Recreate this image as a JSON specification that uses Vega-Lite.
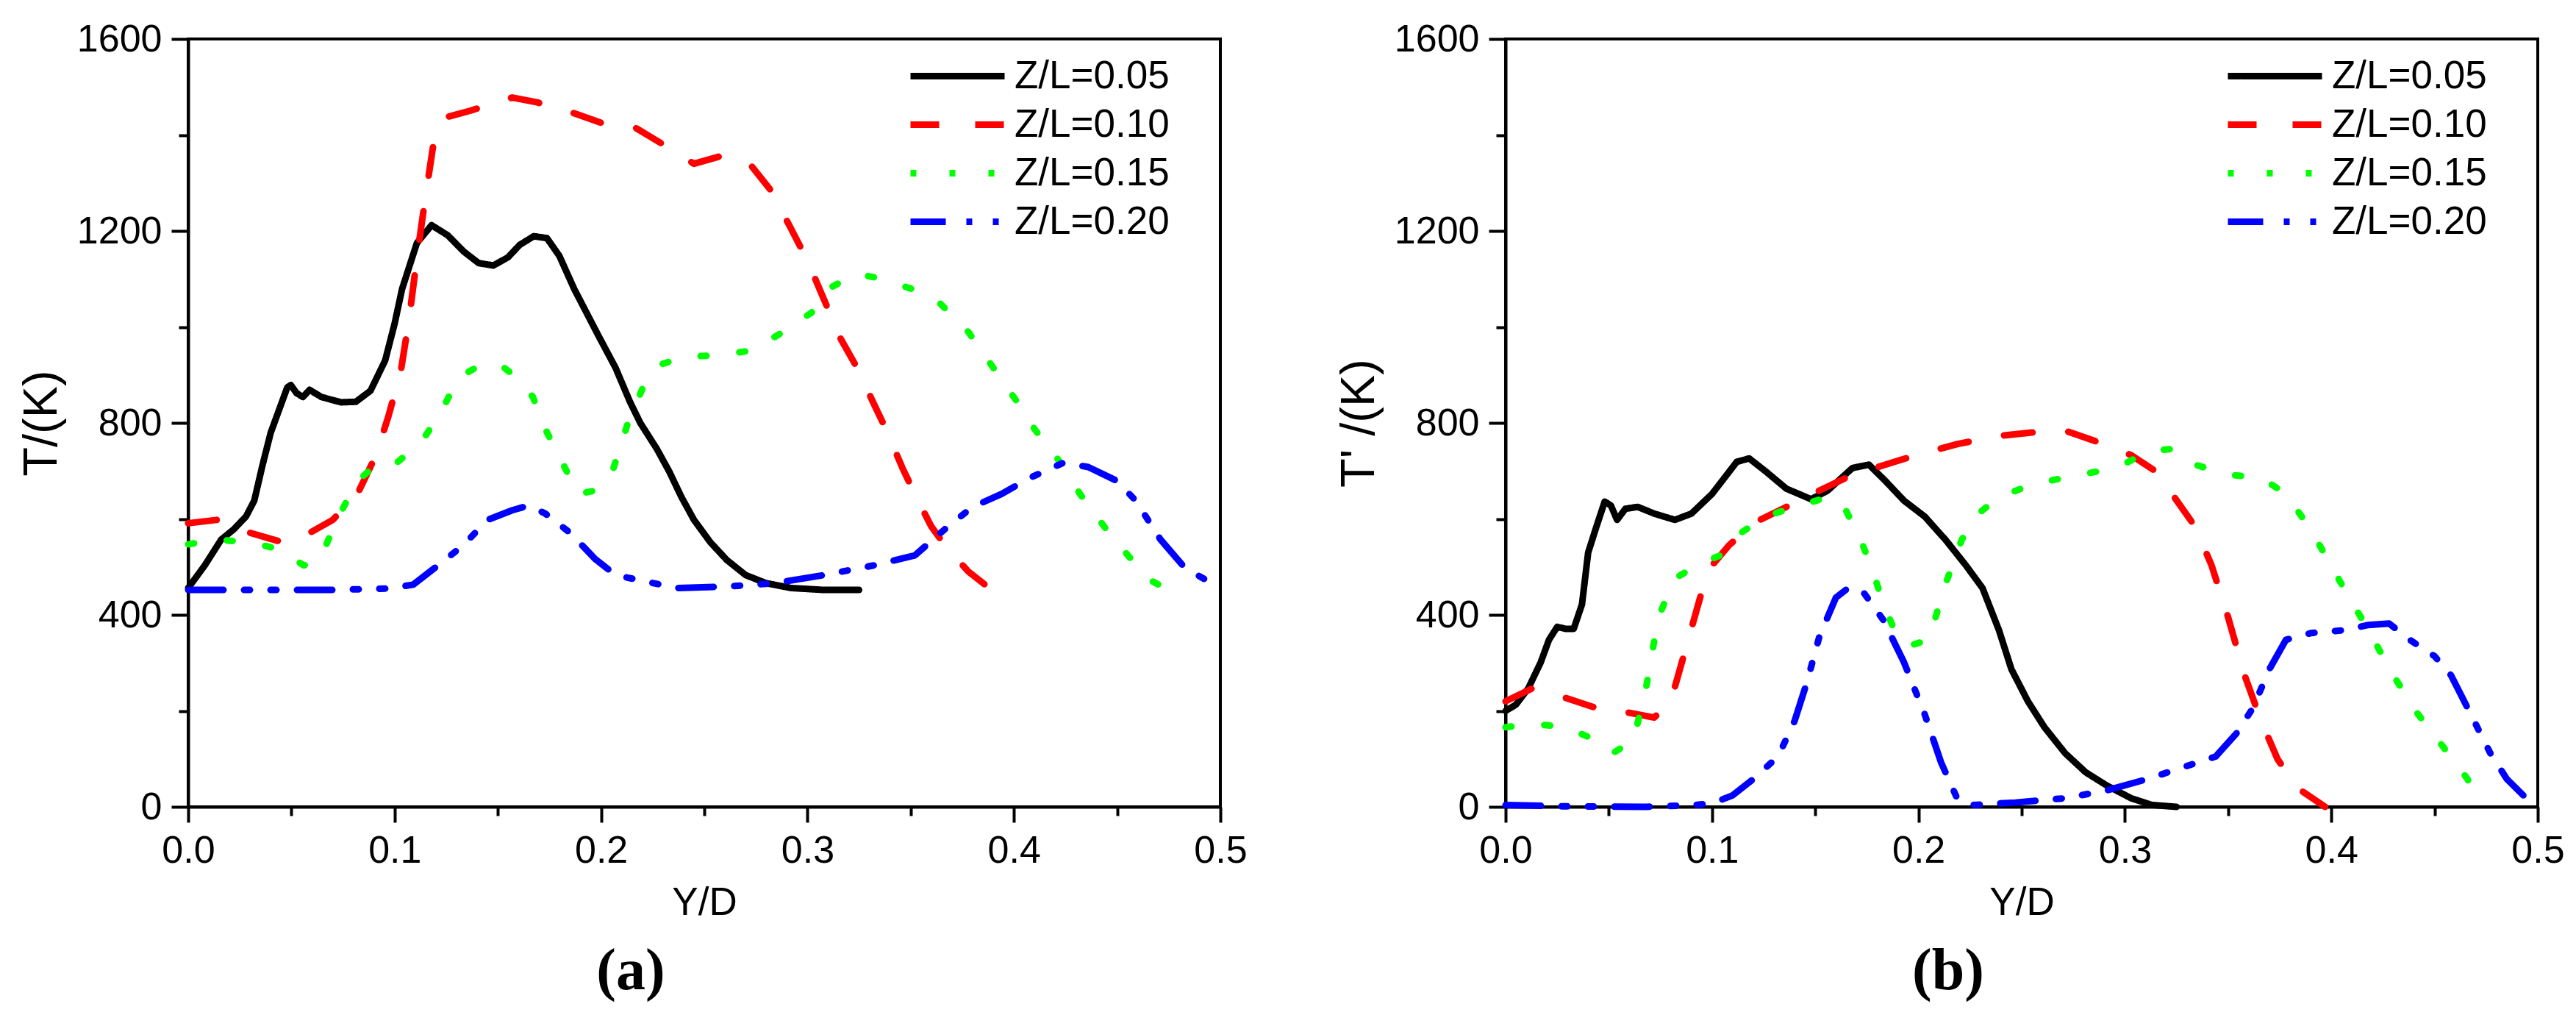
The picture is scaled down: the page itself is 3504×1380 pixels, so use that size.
{
  "$schema": "https://vega.github.io/schema/vega-lite/v6.json",
  "background": "white",
  "padding": {"left": 22, "top": 25, "right": 0, "bottom": 0},
  "spacing": 115,
  "config": {
    "font": "Liberation Sans",
    "view": {"stroke": "black", "strokeWidth": 4},
    "axis": {
      "grid": false,
      "domainColor": "black",
      "domainWidth": 4,
      "tickColor": "black",
      "tickWidth": 4,
      "labelFont": "Liberation Sans",
      "labelFontSize": 52,
      "labelColor": "black",
      "labelFlush": false,
      "labelOverlap": false,
      "labelPadding": 13,
      "titleFont": "Liberation Sans",
      "titleFontWeight": "normal",
      "titleColor": "black"
    },
    "legend": {
      "padding": 0,
      "labelFont": "Liberation Sans",
      "labelFontSize": 53,
      "labelColor": "black",
      "labelLimit": 0,
      "labelOffset": 99,
      "rowPadding": 12,
      "symbolType": "M-1,0H7",
      "symbolSize": 1024,
      "symbolStrokeWidth": 9
    }
  },
  "data": {
    "values": [
      {"p":"a","s":"Z/L=0.05","x":0,"y":456},{"p":"a","s":"Z/L=0.05","x":0.008,"y":503},{"p":"a","s":"Z/L=0.05","x":0.016,"y":557},{"p":"a","s":"Z/L=0.05","x":0.022,"y":578},{"p":"a","s":"Z/L=0.05","x":0.028,"y":605},{"p":"a","s":"Z/L=0.05","x":0.032,"y":638},{"p":"a","s":"Z/L=0.05","x":0.036,"y":712},{"p":"a","s":"Z/L=0.05","x":0.04,"y":780},{"p":"a","s":"Z/L=0.05","x":0.044,"y":827},{"p":"a","s":"Z/L=0.05","x":0.048,"y":874},{"p":"a","s":"Z/L=0.05","x":0.0497,"y":879},{"p":"a","s":"Z/L=0.05","x":0.0525,"y":862},{"p":"a","s":"Z/L=0.05","x":0.0556,"y":854},{"p":"a","s":"Z/L=0.05","x":0.0588,"y":869},{"p":"a","s":"Z/L=0.05","x":0.0645,"y":854},{"p":"a","s":"Z/L=0.05","x":0.074,"y":843},{"p":"a","s":"Z/L=0.05","x":0.0812,"y":844},{"p":"a","s":"Z/L=0.05","x":0.0883,"y":867},{"p":"a","s":"Z/L=0.05","x":0.0954,"y":930},{"p":"a","s":"Z/L=0.05","x":0.1,"y":1007},{"p":"a","s":"Z/L=0.05","x":0.1036,"y":1079},{"p":"a","s":"Z/L=0.05","x":0.1108,"y":1175},{"p":"a","s":"Z/L=0.05","x":0.1179,"y":1212},{"p":"a","s":"Z/L=0.05","x":0.1257,"y":1191},{"p":"a","s":"Z/L=0.05","x":0.1335,"y":1157},{"p":"a","s":"Z/L=0.05","x":0.1407,"y":1133},{"p":"a","s":"Z/L=0.05","x":0.1478,"y":1128},{"p":"a","s":"Z/L=0.05","x":0.1549,"y":1145},{"p":"a","s":"Z/L=0.05","x":0.1606,"y":1171},{"p":"a","s":"Z/L=0.05","x":0.1674,"y":1189},{"p":"a","s":"Z/L=0.05","x":0.1738,"y":1185},{"p":"a","s":"Z/L=0.05","x":0.1798,"y":1148},{"p":"a","s":"Z/L=0.05","x":0.187,"y":1079},{"p":"a","s":"Z/L=0.05","x":0.1987,"y":982},{"p":"a","s":"Z/L=0.05","x":0.207,"y":915},{"p":"a","s":"Z/L=0.05","x":0.214,"y":844},{"p":"a","s":"Z/L=0.05","x":0.219,"y":800},{"p":"a","s":"Z/L=0.05","x":0.227,"y":746},{"p":"a","s":"Z/L=0.05","x":0.233,"y":699},{"p":"a","s":"Z/L=0.05","x":0.239,"y":645},{"p":"a","s":"Z/L=0.05","x":0.245,"y":598},{"p":"a","s":"Z/L=0.05","x":0.253,"y":551},{"p":"a","s":"Z/L=0.05","x":0.261,"y":514},{"p":"a","s":"Z/L=0.05","x":0.27,"y":483},{"p":"a","s":"Z/L=0.05","x":0.28,"y":466},{"p":"a","s":"Z/L=0.05","x":0.292,"y":456},{"p":"a","s":"Z/L=0.05","x":0.308,"y":452},{"p":"a","s":"Z/L=0.05","x":0.325,"y":452},
      {"p":"a","s":"Z/L=0.10","x":0,"y":591},{"p":"a","s":"Z/L=0.10","x":0.014,"y":598},{"p":"a","s":"Z/L=0.10","x":0.03,"y":571},{"p":"a","s":"Z/L=0.10","x":0.046,"y":551},{"p":"a","s":"Z/L=0.10","x":0.056,"y":564},{"p":"a","s":"Z/L=0.10","x":0.07,"y":598},{"p":"a","s":"Z/L=0.10","x":0.082,"y":652},{"p":"a","s":"Z/L=0.10","x":0.091,"y":733},{"p":"a","s":"Z/L=0.10","x":0.097,"y":814},{"p":"a","s":"Z/L=0.10","x":0.103,"y":908},{"p":"a","s":"Z/L=0.10","x":0.107,"y":1016},{"p":"a","s":"Z/L=0.10","x":0.111,"y":1151},{"p":"a","s":"Z/L=0.10","x":0.115,"y":1273},{"p":"a","s":"Z/L=0.10","x":0.119,"y":1387},{"p":"a","s":"Z/L=0.10","x":0.125,"y":1437},{"p":"a","s":"Z/L=0.10","x":0.137,"y":1451},{"p":"a","s":"Z/L=0.10","x":0.157,"y":1478},{"p":"a","s":"Z/L=0.10","x":0.169,"y":1468},{"p":"a","s":"Z/L=0.10","x":0.185,"y":1448},{"p":"a","s":"Z/L=0.10","x":0.201,"y":1424},{"p":"a","s":"Z/L=0.10","x":0.217,"y":1414},{"p":"a","s":"Z/L=0.10","x":0.229,"y":1383},{"p":"a","s":"Z/L=0.10","x":0.245,"y":1340},{"p":"a","s":"Z/L=0.10","x":0.258,"y":1356},{"p":"a","s":"Z/L=0.10","x":0.272,"y":1340},{"p":"a","s":"Z/L=0.10","x":0.282,"y":1286},{"p":"a","s":"Z/L=0.10","x":0.292,"y":1205},{"p":"a","s":"Z/L=0.10","x":0.3,"y":1138},{"p":"a","s":"Z/L=0.10","x":0.308,"y":1057},{"p":"a","s":"Z/L=0.10","x":0.316,"y":976},{"p":"a","s":"Z/L=0.10","x":0.324,"y":915},{"p":"a","s":"Z/L=0.10","x":0.332,"y":841},{"p":"a","s":"Z/L=0.10","x":0.338,"y":787},{"p":"a","s":"Z/L=0.10","x":0.346,"y":706},{"p":"a","s":"Z/L=0.10","x":0.352,"y":652},{"p":"a","s":"Z/L=0.10","x":0.36,"y":584},{"p":"a","s":"Z/L=0.10","x":0.368,"y":537},{"p":"a","s":"Z/L=0.10","x":0.378,"y":490},{"p":"a","s":"Z/L=0.10","x":0.388,"y":456},
      {"p":"a","s":"Z/L=0.15","x":0,"y":547},{"p":"a","s":"Z/L=0.15","x":0.014,"y":557},{"p":"a","s":"Z/L=0.15","x":0.03,"y":551},{"p":"a","s":"Z/L=0.15","x":0.044,"y":537},{"p":"a","s":"Z/L=0.15","x":0.056,"y":503},{"p":"a","s":"Z/L=0.15","x":0.064,"y":517},{"p":"a","s":"Z/L=0.15","x":0.072,"y":598},{"p":"a","s":"Z/L=0.15","x":0.082,"y":679},{"p":"a","s":"Z/L=0.15","x":0.091,"y":713},{"p":"a","s":"Z/L=0.15","x":0.101,"y":717},{"p":"a","s":"Z/L=0.15","x":0.113,"y":760},{"p":"a","s":"Z/L=0.15","x":0.123,"y":827},{"p":"a","s":"Z/L=0.15","x":0.131,"y":895},{"p":"a","s":"Z/L=0.15","x":0.141,"y":919},{"p":"a","s":"Z/L=0.15","x":0.151,"y":922},{"p":"a","s":"Z/L=0.15","x":0.159,"y":895},{"p":"a","s":"Z/L=0.15","x":0.167,"y":854},{"p":"a","s":"Z/L=0.15","x":0.173,"y":787},{"p":"a","s":"Z/L=0.15","x":0.181,"y":719},{"p":"a","s":"Z/L=0.15","x":0.189,"y":652},{"p":"a","s":"Z/L=0.15","x":0.197,"y":659},{"p":"a","s":"Z/L=0.15","x":0.205,"y":692},{"p":"a","s":"Z/L=0.15","x":0.213,"y":800},{"p":"a","s":"Z/L=0.15","x":0.221,"y":881},{"p":"a","s":"Z/L=0.15","x":0.229,"y":922},{"p":"a","s":"Z/L=0.15","x":0.241,"y":938},{"p":"a","s":"Z/L=0.15","x":0.257,"y":941},{"p":"a","s":"Z/L=0.15","x":0.273,"y":951},{"p":"a","s":"Z/L=0.15","x":0.288,"y":989},{"p":"a","s":"Z/L=0.15","x":0.302,"y":1030},{"p":"a","s":"Z/L=0.15","x":0.312,"y":1084},{"p":"a","s":"Z/L=0.15","x":0.324,"y":1111},{"p":"a","s":"Z/L=0.15","x":0.336,"y":1100},{"p":"a","s":"Z/L=0.15","x":0.352,"y":1077},{"p":"a","s":"Z/L=0.15","x":0.364,"y":1050},{"p":"a","s":"Z/L=0.15","x":0.378,"y":989},{"p":"a","s":"Z/L=0.15","x":0.39,"y":915},{"p":"a","s":"Z/L=0.15","x":0.402,"y":841},{"p":"a","s":"Z/L=0.15","x":0.41,"y":787},{"p":"a","s":"Z/L=0.15","x":0.42,"y":733},{"p":"a","s":"Z/L=0.15","x":0.432,"y":652},{"p":"a","s":"Z/L=0.15","x":0.446,"y":571},{"p":"a","s":"Z/L=0.15","x":0.458,"y":510},{"p":"a","s":"Z/L=0.15","x":0.467,"y":470},{"p":"a","s":"Z/L=0.15","x":0.475,"y":452},
      {"p":"a","s":"Z/L=0.20","x":0,"y":452},{"p":"a","s":"Z/L=0.20","x":0.03,"y":452},{"p":"a","s":"Z/L=0.20","x":0.07,"y":452},{"p":"a","s":"Z/L=0.20","x":0.097,"y":455},{"p":"a","s":"Z/L=0.20","x":0.109,"y":463},{"p":"a","s":"Z/L=0.20","x":0.121,"y":503},{"p":"a","s":"Z/L=0.20","x":0.133,"y":544},{"p":"a","s":"Z/L=0.20","x":0.145,"y":598},{"p":"a","s":"Z/L=0.20","x":0.157,"y":618},{"p":"a","s":"Z/L=0.20","x":0.165,"y":628},{"p":"a","s":"Z/L=0.20","x":0.173,"y":611},{"p":"a","s":"Z/L=0.20","x":0.185,"y":571},{"p":"a","s":"Z/L=0.20","x":0.197,"y":517},{"p":"a","s":"Z/L=0.20","x":0.207,"y":483},{"p":"a","s":"Z/L=0.20","x":0.221,"y":470},{"p":"a","s":"Z/L=0.20","x":0.237,"y":456},{"p":"a","s":"Z/L=0.20","x":0.261,"y":459},{"p":"a","s":"Z/L=0.20","x":0.284,"y":466},{"p":"a","s":"Z/L=0.20","x":0.308,"y":483},{"p":"a","s":"Z/L=0.20","x":0.332,"y":503},{"p":"a","s":"Z/L=0.20","x":0.352,"y":524},{"p":"a","s":"Z/L=0.20","x":0.368,"y":584},{"p":"a","s":"Z/L=0.20","x":0.38,"y":625},{"p":"a","s":"Z/L=0.20","x":0.394,"y":652},{"p":"a","s":"Z/L=0.20","x":0.408,"y":686},{"p":"a","s":"Z/L=0.20","x":0.424,"y":717},{"p":"a","s":"Z/L=0.20","x":0.436,"y":708},{"p":"a","s":"Z/L=0.20","x":0.45,"y":679},{"p":"a","s":"Z/L=0.20","x":0.459,"y":638},{"p":"a","s":"Z/L=0.20","x":0.471,"y":557},{"p":"a","s":"Z/L=0.20","x":0.483,"y":497},{"p":"a","s":"Z/L=0.20","x":0.5,"y":456},
      {"p":"b","s":"Z/L=0.05","x":0,"y":200},{"p":"b","s":"Z/L=0.05","x":0.005,"y":213},{"p":"b","s":"Z/L=0.05","x":0.011,"y":247},{"p":"b","s":"Z/L=0.05","x":0.017,"y":301},{"p":"b","s":"Z/L=0.05","x":0.021,"y":348},{"p":"b","s":"Z/L=0.05","x":0.025,"y":375},{"p":"b","s":"Z/L=0.05","x":0.029,"y":371},{"p":"b","s":"Z/L=0.05","x":0.033,"y":371},{"p":"b","s":"Z/L=0.05","x":0.037,"y":422},{"p":"b","s":"Z/L=0.05","x":0.04,"y":530},{"p":"b","s":"Z/L=0.05","x":0.044,"y":584},{"p":"b","s":"Z/L=0.05","x":0.048,"y":636},{"p":"b","s":"Z/L=0.05","x":0.051,"y":628},{"p":"b","s":"Z/L=0.05","x":0.054,"y":598},{"p":"b","s":"Z/L=0.05","x":0.058,"y":621},{"p":"b","s":"Z/L=0.05","x":0.064,"y":625},{"p":"b","s":"Z/L=0.05","x":0.072,"y":611},{"p":"b","s":"Z/L=0.05","x":0.082,"y":598},{"p":"b","s":"Z/L=0.05","x":0.09,"y":611},{"p":"b","s":"Z/L=0.05","x":0.1,"y":652},{"p":"b","s":"Z/L=0.05","x":0.112,"y":719},{"p":"b","s":"Z/L=0.05","x":0.118,"y":726},{"p":"b","s":"Z/L=0.05","x":0.126,"y":699},{"p":"b","s":"Z/L=0.05","x":0.136,"y":663},{"p":"b","s":"Z/L=0.05","x":0.148,"y":641},{"p":"b","s":"Z/L=0.05","x":0.156,"y":659},{"p":"b","s":"Z/L=0.05","x":0.168,"y":706},{"p":"b","s":"Z/L=0.05","x":0.176,"y":713},{"p":"b","s":"Z/L=0.05","x":0.184,"y":679},{"p":"b","s":"Z/L=0.05","x":0.193,"y":638},{"p":"b","s":"Z/L=0.05","x":0.203,"y":605},{"p":"b","s":"Z/L=0.05","x":0.213,"y":557},{"p":"b","s":"Z/L=0.05","x":0.223,"y":503},{"p":"b","s":"Z/L=0.05","x":0.231,"y":456},{"p":"b","s":"Z/L=0.05","x":0.239,"y":368},{"p":"b","s":"Z/L=0.05","x":0.245,"y":287},{"p":"b","s":"Z/L=0.05","x":0.253,"y":220},{"p":"b","s":"Z/L=0.05","x":0.261,"y":166},{"p":"b","s":"Z/L=0.05","x":0.271,"y":112},{"p":"b","s":"Z/L=0.05","x":0.281,"y":72},{"p":"b","s":"Z/L=0.05","x":0.291,"y":45},{"p":"b","s":"Z/L=0.05","x":0.303,"y":18},{"p":"b","s":"Z/L=0.05","x":0.313,"y":4},{"p":"b","s":"Z/L=0.05","x":0.325,"y":0},
      {"p":"b","s":"Z/L=0.10","x":0,"y":220},{"p":"b","s":"Z/L=0.10","x":0.013,"y":247},{"p":"b","s":"Z/L=0.10","x":0.029,"y":227},{"p":"b","s":"Z/L=0.10","x":0.044,"y":206},{"p":"b","s":"Z/L=0.10","x":0.06,"y":196},{"p":"b","s":"Z/L=0.10","x":0.072,"y":186},{"p":"b","s":"Z/L=0.10","x":0.08,"y":220},{"p":"b","s":"Z/L=0.10","x":0.088,"y":341},{"p":"b","s":"Z/L=0.10","x":0.096,"y":463},{"p":"b","s":"Z/L=0.10","x":0.1,"y":503},{"p":"b","s":"Z/L=0.10","x":0.108,"y":544},{"p":"b","s":"Z/L=0.10","x":0.12,"y":591},{"p":"b","s":"Z/L=0.10","x":0.136,"y":625},{"p":"b","s":"Z/L=0.10","x":0.152,"y":659},{"p":"b","s":"Z/L=0.10","x":0.168,"y":692},{"p":"b","s":"Z/L=0.10","x":0.184,"y":713},{"p":"b","s":"Z/L=0.10","x":0.199,"y":733},{"p":"b","s":"Z/L=0.10","x":0.219,"y":756},{"p":"b","s":"Z/L=0.10","x":0.239,"y":773},{"p":"b","s":"Z/L=0.10","x":0.255,"y":780},{"p":"b","s":"Z/L=0.10","x":0.271,"y":784},{"p":"b","s":"Z/L=0.10","x":0.287,"y":760},{"p":"b","s":"Z/L=0.10","x":0.303,"y":733},{"p":"b","s":"Z/L=0.10","x":0.315,"y":699},{"p":"b","s":"Z/L=0.10","x":0.324,"y":645},{"p":"b","s":"Z/L=0.10","x":0.334,"y":584},{"p":"b","s":"Z/L=0.10","x":0.342,"y":503},{"p":"b","s":"Z/L=0.10","x":0.35,"y":395},{"p":"b","s":"Z/L=0.10","x":0.358,"y":274},{"p":"b","s":"Z/L=0.10","x":0.366,"y":179},{"p":"b","s":"Z/L=0.10","x":0.374,"y":99},{"p":"b","s":"Z/L=0.10","x":0.384,"y":38},{"p":"b","s":"Z/L=0.10","x":0.397,"y":0},
      {"p":"b","s":"Z/L=0.15","x":0,"y":166},{"p":"b","s":"Z/L=0.15","x":0.013,"y":173},{"p":"b","s":"Z/L=0.15","x":0.029,"y":166},{"p":"b","s":"Z/L=0.15","x":0.04,"y":146},{"p":"b","s":"Z/L=0.15","x":0.052,"y":112},{"p":"b","s":"Z/L=0.15","x":0.062,"y":139},{"p":"b","s":"Z/L=0.15","x":0.068,"y":247},{"p":"b","s":"Z/L=0.15","x":0.074,"y":395},{"p":"b","s":"Z/L=0.15","x":0.082,"y":476},{"p":"b","s":"Z/L=0.15","x":0.094,"y":506},{"p":"b","s":"Z/L=0.15","x":0.104,"y":524},{"p":"b","s":"Z/L=0.15","x":0.114,"y":571},{"p":"b","s":"Z/L=0.15","x":0.126,"y":605},{"p":"b","s":"Z/L=0.15","x":0.14,"y":625},{"p":"b","s":"Z/L=0.15","x":0.156,"y":645},{"p":"b","s":"Z/L=0.15","x":0.164,"y":625},{"p":"b","s":"Z/L=0.15","x":0.172,"y":557},{"p":"b","s":"Z/L=0.15","x":0.178,"y":490},{"p":"b","s":"Z/L=0.15","x":0.183,"y":422},{"p":"b","s":"Z/L=0.15","x":0.189,"y":362},{"p":"b","s":"Z/L=0.15","x":0.195,"y":335},{"p":"b","s":"Z/L=0.15","x":0.205,"y":348},{"p":"b","s":"Z/L=0.15","x":0.213,"y":463},{"p":"b","s":"Z/L=0.15","x":0.221,"y":557},{"p":"b","s":"Z/L=0.15","x":0.229,"y":611},{"p":"b","s":"Z/L=0.15","x":0.239,"y":645},{"p":"b","s":"Z/L=0.15","x":0.255,"y":672},{"p":"b","s":"Z/L=0.15","x":0.271,"y":686},{"p":"b","s":"Z/L=0.15","x":0.287,"y":699},{"p":"b","s":"Z/L=0.15","x":0.299,"y":713},{"p":"b","s":"Z/L=0.15","x":0.311,"y":740},{"p":"b","s":"Z/L=0.15","x":0.323,"y":746},{"p":"b","s":"Z/L=0.15","x":0.334,"y":713},{"p":"b","s":"Z/L=0.15","x":0.35,"y":692},{"p":"b","s":"Z/L=0.15","x":0.366,"y":686},{"p":"b","s":"Z/L=0.15","x":0.378,"y":652},{"p":"b","s":"Z/L=0.15","x":0.39,"y":578},{"p":"b","s":"Z/L=0.15","x":0.398,"y":517},{"p":"b","s":"Z/L=0.15","x":0.406,"y":456},{"p":"b","s":"Z/L=0.15","x":0.418,"y":368},{"p":"b","s":"Z/L=0.15","x":0.43,"y":274},{"p":"b","s":"Z/L=0.15","x":0.442,"y":193},{"p":"b","s":"Z/L=0.15","x":0.454,"y":126},{"p":"b","s":"Z/L=0.15","x":0.466,"y":58},{"p":"b","s":"Z/L=0.15","x":0.469,"y":24},
      {"p":"b","s":"Z/L=0.20","x":0,"y":4},{"p":"b","s":"Z/L=0.20","x":0.029,"y":1},{"p":"b","s":"Z/L=0.20","x":0.068,"y":0},{"p":"b","s":"Z/L=0.20","x":0.092,"y":4},{"p":"b","s":"Z/L=0.20","x":0.1,"y":7},{"p":"b","s":"Z/L=0.20","x":0.11,"y":24},{"p":"b","s":"Z/L=0.20","x":0.12,"y":58},{"p":"b","s":"Z/L=0.20","x":0.132,"y":105},{"p":"b","s":"Z/L=0.20","x":0.14,"y":179},{"p":"b","s":"Z/L=0.20","x":0.146,"y":260},{"p":"b","s":"Z/L=0.20","x":0.152,"y":355},{"p":"b","s":"Z/L=0.20","x":0.16,"y":436},{"p":"b","s":"Z/L=0.20","x":0.166,"y":456},{"p":"b","s":"Z/L=0.20","x":0.173,"y":449},{"p":"b","s":"Z/L=0.20","x":0.183,"y":389},{"p":"b","s":"Z/L=0.20","x":0.193,"y":301},{"p":"b","s":"Z/L=0.20","x":0.203,"y":193},{"p":"b","s":"Z/L=0.20","x":0.211,"y":92},{"p":"b","s":"Z/L=0.20","x":0.219,"y":15},{"p":"b","s":"Z/L=0.20","x":0.227,"y":4},{"p":"b","s":"Z/L=0.20","x":0.247,"y":9},{"p":"b","s":"Z/L=0.20","x":0.271,"y":18},{"p":"b","s":"Z/L=0.20","x":0.291,"y":34},{"p":"b","s":"Z/L=0.20","x":0.311,"y":58},{"p":"b","s":"Z/L=0.20","x":0.33,"y":85},{"p":"b","s":"Z/L=0.20","x":0.344,"y":105},{"p":"b","s":"Z/L=0.20","x":0.354,"y":153},{"p":"b","s":"Z/L=0.20","x":0.362,"y":206},{"p":"b","s":"Z/L=0.20","x":0.37,"y":287},{"p":"b","s":"Z/L=0.20","x":0.378,"y":348},{"p":"b","s":"Z/L=0.20","x":0.39,"y":362},{"p":"b","s":"Z/L=0.20","x":0.406,"y":368},{"p":"b","s":"Z/L=0.20","x":0.418,"y":379},{"p":"b","s":"Z/L=0.20","x":0.428,"y":382},{"p":"b","s":"Z/L=0.20","x":0.438,"y":348},{"p":"b","s":"Z/L=0.20","x":0.45,"y":314},{"p":"b","s":"Z/L=0.20","x":0.458,"y":274},{"p":"b","s":"Z/L=0.20","x":0.466,"y":206},{"p":"b","s":"Z/L=0.20","x":0.477,"y":112},{"p":"b","s":"Z/L=0.20","x":0.485,"y":58},{"p":"b","s":"Z/L=0.20","x":0.493,"y":24}
    ]
  },
  "hconcat": [
    {
      "width": 1404,
      "height": 1044,
      "title": {"text": "(a)", "orient": "bottom", "font": "Liberation Serif", "fontSize": 80, "fontWeight": "bold", "color": "black", "dx": -100, "offset": 28},
      "transform": [{"filter": "datum.p == 'a'"}],
      "mark": {"type": "line", "strokeWidth": 9, "strokeCap": "round", "strokeJoin": "round"},
      "encoding": {
        "x": {
          "field": "x", "type": "quantitative",
          "scale": {"domain": [0, 0.5], "nice": false},
          "axis": {
            "title": "Y/D", "titleFontSize": 53, "titlePadding": 19,
            "values": [0, 0.05, 0.1, 0.15, 0.2, 0.25, 0.3, 0.35, 0.4, 0.45, 0.5],
            "labelExpr": "round(datum.value * 100) % 10 == 0 ? format(datum.value, '.1f') : ''",
            "tickSize": {"condition": {"test": "round(datum.value * 100) % 10 != 0", "value": 12}, "value": 21},
            "labelPadding": 13
          }
        },
        "y": {
          "field": "y", "type": "quantitative",
          "scale": {"domain": [0, 1600], "nice": false},
          "axis": {
            "title": "T/(K)", "titleFontSize": 65, "titlePadding": 14,
            "values": [0, 200, 400, 600, 800, 1000, 1200, 1400, 1600],
            "labelExpr": "datum.value % 400 == 0 ? format(datum.value, 'd') : ''",
            "tickSize": {"condition": {"test": "datum.value % 400 != 0", "value": 13}, "value": 23}
          }
        },
        "color": {
          "field": "s", "type": "nominal",
          "scale": {"domain": ["Z/L=0.05", "Z/L=0.10", "Z/L=0.15", "Z/L=0.20"], "range": ["#000000", "#ff0000", "#00ff00", "#0000ff"]},
          "legend": {"title": null, "orient": "none", "legendX": 972, "legendY": 24, "encoding": {"symbols": {"update": {"strokeCap": {"value": "round"}}}}}
        },
        "strokeDash": {
          "field": "s", "type": "nominal",
          "scale": {"domain": ["Z/L=0.05", "Z/L=0.10", "Z/L=0.15", "Z/L=0.20"], "range": [[1, 0], [39, 49], [8, 45], [48, 28, 8, 28, 8, 28]]},
          "legend": {"title": null, "orient": "none", "legendX": 972, "legendY": 24, "encoding": {"symbols": {"update": {"strokeCap": {"value": "round"}}}}}
        }
      }
    },
    {
      "width": 1404,
      "height": 1044,
      "title": {"text": "(b)", "orient": "bottom", "font": "Liberation Serif", "fontSize": 80, "fontWeight": "bold", "color": "black", "dx": -100, "offset": 28},
      "transform": [{"filter": "datum.p == 'b'"}],
      "mark": {"type": "line", "strokeWidth": 9, "strokeCap": "round", "strokeJoin": "round"},
      "encoding": {
        "x": {
          "field": "x", "type": "quantitative",
          "scale": {"domain": [0, 0.5], "nice": false},
          "axis": {
            "title": "Y/D", "titleFontSize": 53, "titlePadding": 19,
            "values": [0, 0.05, 0.1, 0.15, 0.2, 0.25, 0.3, 0.35, 0.4, 0.45, 0.5],
            "labelExpr": "round(datum.value * 100) % 10 == 0 ? format(datum.value, '.1f') : ''",
            "tickSize": {"condition": {"test": "round(datum.value * 100) % 10 != 0", "value": 12}, "value": 21},
            "labelPadding": 13
          }
        },
        "y": {
          "field": "y", "type": "quantitative",
          "scale": {"domain": [0, 1600], "nice": false},
          "axis": {
            "title": "T' /(K)", "titleFontSize": 65, "titlePadding": 14,
            "values": [0, 200, 400, 600, 800, 1000, 1200, 1400, 1600],
            "labelExpr": "datum.value % 400 == 0 ? format(datum.value, 'd') : ''",
            "tickSize": {"condition": {"test": "datum.value % 400 != 0", "value": 13}, "value": 23}
          }
        },
        "color": {
          "field": "s", "type": "nominal",
          "scale": {"domain": ["Z/L=0.05", "Z/L=0.10", "Z/L=0.15", "Z/L=0.20"], "range": ["#000000", "#ff0000", "#00ff00", "#0000ff"]},
          "legend": {"title": null, "orient": "none", "legendX": 972, "legendY": 24, "encoding": {"symbols": {"update": {"strokeCap": {"value": "round"}}}}}
        },
        "strokeDash": {
          "field": "s", "type": "nominal",
          "scale": {"domain": ["Z/L=0.05", "Z/L=0.10", "Z/L=0.15", "Z/L=0.20"], "range": [[1, 0], [39, 49], [8, 45], [48, 28, 8, 28, 8, 28]]},
          "legend": {"title": null, "orient": "none", "legendX": 972, "legendY": 24, "encoding": {"symbols": {"update": {"strokeCap": {"value": "round"}}}}}
        }
      }
    }
  ],
  "resolve": {"legend": {"color": "independent", "strokeDash": "independent"}}
}
